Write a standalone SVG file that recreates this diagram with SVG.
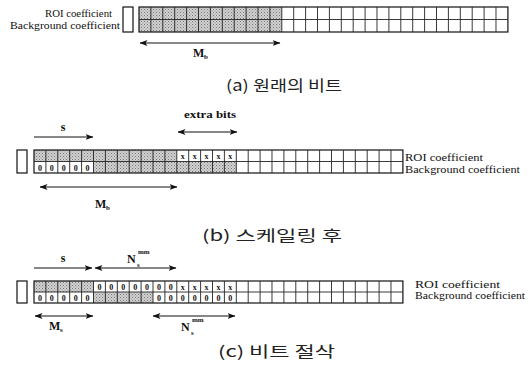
<svg xmlns="http://www.w3.org/2000/svg" width="532" height="372" viewBox="0 0 532 372">
<style>
.bg{fill:#fff}
.box{fill:none;stroke:#111;stroke-width:1.2}
.gl{fill:none;stroke:#222;stroke-width:0.9}
.g{fill:url(#stip)}
.c{font-family:"Liberation Serif",serif;font-size:8px;font-weight:bold;fill:#111;text-anchor:middle}
.lab{font-family:"Liberation Serif",serif;font-size:10px;fill:#111}
.sym{font-family:"Liberation Serif",serif;font-size:12px;font-weight:bold;fill:#111}
.sub{font-family:"Liberation Serif",serif;font-size:7px;font-weight:bold;fill:#111}
.cap{font-family:"Noto Sans CJK KR","Noto Sans",sans-serif;font-size:15px;fill:#222}
.ar{fill:none;stroke:#111;stroke-width:1.2}
</style>
<defs>
<pattern id="stip" width="3" height="3" patternUnits="userSpaceOnUse">
<rect width="3" height="3" fill="#d2d2d2"/>
<rect x="0" y="0" width="1" height="1" fill="#777"/>
<rect x="1.5" y="1.5" width="1" height="1" fill="#8a8a8a"/>
</pattern>
<marker id="ah" viewBox="0 0 8 6" refX="7.5" refY="3" markerWidth="8" markerHeight="6" markerUnits="userSpaceOnUse" orient="auto-start-reverse">
<path d="M0,0 L8,3 L0,6 L2,3 z" fill="#111"/>
</marker>
</defs>
<rect class="bg" width="532" height="372"/>

<g id="panel-a">
<text class="lab" x="112" y="17" text-anchor="end" textLength="67" lengthAdjust="spacingAndGlyphs">ROI coefficient</text>
<text class="lab" x="120" y="29" text-anchor="end" textLength="110" lengthAdjust="spacingAndGlyphs">Background coefficient</text>
<rect class="box" x="123" y="7" width="10" height="25"/>
<rect class="g" x="139" y="7" width="142.8" height="25"/>
<rect class="box" x="139" y="7" width="368.9" height="25"/>
<path class="gl" d="M139,19.5H507.9M150.9,7v25m11.9,-25v25m11.9,-25v25m11.9,-25v25m11.9,-25v25m11.9,-25v25m11.9,-25v25m11.9,-25v25m11.9,-25v25m11.9,-25v25m11.9,-25v25m11.9,-25v25m11.9,-25v25m11.9,-25v25m11.9,-25v25m11.9,-25v25m11.9,-25v25m11.9,-25v25m11.9,-25v25m11.9,-25v25m11.9,-25v25m11.9,-25v25m11.9,-25v25m11.9,-25v25m11.9,-25v25m11.9,-25v25m11.9,-25v25m11.9,-25v25m11.9,-25v25m11.9,-25v25"/>
<text class="sym" x="193" y="57">M</text><text class="sub" x="204" y="59">b</text>
<text class="cap" x="226" y="91" textLength="116" lengthAdjust="spacingAndGlyphs">(a) 원래의 비트</text>
</g>

<g id="panel-b">
<text class="lab" x="210" y="118" text-anchor="middle" font-size="11" font-weight="bold" textLength="52" lengthAdjust="spacingAndGlyphs">extra bits</text>
<text class="sym" x="63" y="131" text-anchor="middle">s</text>
<rect class="box" x="17" y="150" width="10" height="23"/>
<rect class="g" x="34" y="150" width="142.8" height="11.5"/>
<rect class="g" x="93.5" y="161.5" width="142.8" height="11.5"/>
<rect class="box" x="34" y="150" width="368.9" height="23"/>
<path class="gl" d="M34,161.5H402.9M45.9,150v23m11.9,-23v23m11.9,-23v23m11.9,-23v23m11.9,-23v23m11.9,-23v23m11.9,-23v23m11.9,-23v23m11.9,-23v23m11.9,-23v23m11.9,-23v23m11.9,-23v23m11.9,-23v23m11.9,-23v23m11.9,-23v23m11.9,-23v23m11.9,-23v23m11.9,-23v23m11.9,-23v23m11.9,-23v23m11.9,-23v23m11.9,-23v23m11.9,-23v23m11.9,-23v23m11.9,-23v23m11.9,-23v23m11.9,-23v23m11.9,-23v23m11.9,-23v23m11.9,-23v23"/>
<g class="c">
<text x="182.75" y="158.5">x</text><text x="194.65" y="158.5">x</text><text x="206.55" y="158.5">x</text><text x="218.45" y="158.5">x</text><text x="230.35" y="158.5">x</text>
<text x="39.95" y="170.5">0</text><text x="51.85" y="170.5">0</text><text x="63.75" y="170.5">0</text><text x="75.65" y="170.5">0</text><text x="87.55" y="170.5">0</text>
</g>
<text class="lab" x="405" y="161" textLength="78" lengthAdjust="spacingAndGlyphs">ROI coefficient</text>
<text class="lab" x="405" y="173" textLength="115" lengthAdjust="spacingAndGlyphs">Background coefficient</text>
<text class="sym" x="95" y="208">M</text><text class="sub" x="106" y="210">b</text>
<text class="cap" x="202" y="241" textLength="140" lengthAdjust="spacingAndGlyphs">(b) 스케일링 후</text>
</g>

<g id="panel-c">
<text class="sym" x="63" y="262" text-anchor="middle">s</text>
<text class="sym" x="127" y="263">N</text><text class="sub" x="138" y="254">mm</text><text class="sub" x="137" y="267">s</text>
<rect class="box" x="17" y="281" width="10" height="22"/>
<rect class="g" x="34" y="281" width="59.5" height="11"/>
<rect class="g" x="93.5" y="292" width="59.5" height="11"/>
<rect class="box" x="34" y="281" width="368.9" height="22"/>
<path class="gl" d="M34,292H402.9M45.9,281v22m11.9,-22v22m11.9,-22v22m11.9,-22v22m11.9,-22v22m11.9,-22v22m11.9,-22v22m11.9,-22v22m11.9,-22v22m11.9,-22v22m11.9,-22v22m11.9,-22v22m11.9,-22v22m11.9,-22v22m11.9,-22v22m11.9,-22v22m11.9,-22v22m11.9,-22v22m11.9,-22v22m11.9,-22v22m11.9,-22v22m11.9,-22v22m11.9,-22v22m11.9,-22v22m11.9,-22v22m11.9,-22v22m11.9,-22v22m11.9,-22v22m11.9,-22v22m11.9,-22v22"/>
<g class="c">
<text x="99.45" y="289.5">0</text><text x="111.35" y="289.5">0</text><text x="123.25" y="289.5">0</text><text x="135.15" y="289.5">0</text><text x="147.05" y="289.5">0</text><text x="158.95" y="289.5">0</text><text x="170.85" y="289.5">0</text>
<text x="182.75" y="289.5">x</text><text x="194.65" y="289.5">x</text><text x="206.55" y="289.5">x</text><text x="218.45" y="289.5">x</text><text x="230.35" y="289.5">x</text>
<text x="39.95" y="300.5">0</text><text x="51.85" y="300.5">0</text><text x="63.75" y="300.5">0</text><text x="75.65" y="300.5">0</text><text x="87.55" y="300.5">0</text>
<text x="158.95" y="300.5">0</text><text x="170.85" y="300.5">0</text><text x="182.75" y="300.5">0</text><text x="194.65" y="300.5">0</text><text x="206.55" y="300.5">0</text><text x="218.45" y="300.5">0</text><text x="230.35" y="300.5">0</text>
</g>
<text class="lab" x="415" y="288" font-size="9" textLength="85" lengthAdjust="spacingAndGlyphs">ROI coefficient</text>
<text class="lab" x="415" y="298.5" font-size="9" textLength="110" lengthAdjust="spacingAndGlyphs">Background coefficient</text>
<text class="sym" x="49" y="330">M</text><text class="sub" x="60" y="332">s</text>
<text class="sym" x="181" y="331">N</text><text class="sub" x="192" y="322">mm</text><text class="sub" x="191" y="335">s</text>
<text class="cap" x="218" y="357" textLength="117" lengthAdjust="spacingAndGlyphs">(c) 비트 절삭</text>
</g>

<g id="connectors">
<line class="ar" x1="140" y1="43" x2="280" y2="43" marker-start="url(#ah)" marker-end="url(#ah)"/>
<line class="ar" x1="34" y1="137" x2="93" y2="137" marker-end="url(#ah)"/>
<line class="ar" x1="178" y1="132" x2="237" y2="132" marker-start="url(#ah)" marker-end="url(#ah)"/>
<line class="ar" x1="40" y1="187" x2="177" y2="187" marker-start="url(#ah)" marker-end="url(#ah)"/>
<line class="ar" x1="34" y1="268" x2="92" y2="268" marker-end="url(#ah)"/>
<line class="ar" x1="95" y1="268" x2="176" y2="268" marker-start="url(#ah)" marker-end="url(#ah)"/>
<line class="ar" x1="35" y1="316" x2="93" y2="316" marker-start="url(#ah)" marker-end="url(#ah)"/>
<line class="ar" x1="153" y1="316" x2="235" y2="316" marker-start="url(#ah)" marker-end="url(#ah)"/>
</g>
</svg>
